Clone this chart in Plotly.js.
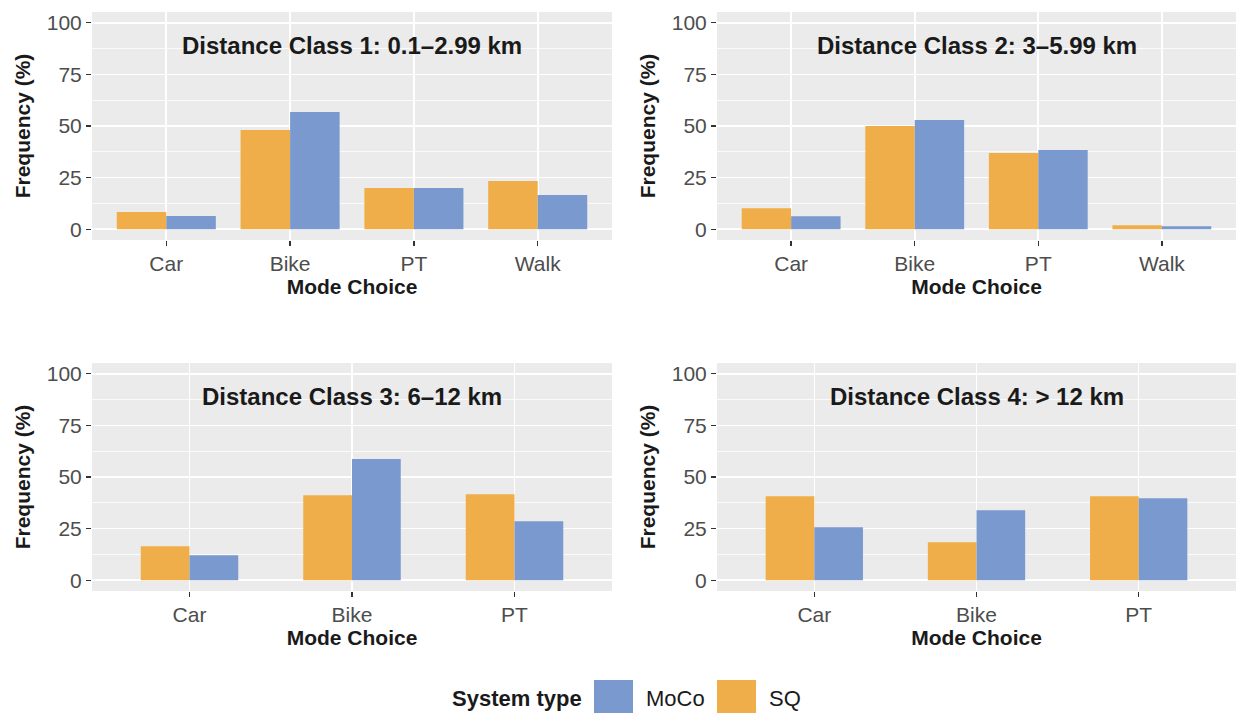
<!DOCTYPE html>
<html>
<head>
<meta charset="utf-8">
<script src="https://cdn.plot.ly/plotly-3.0.1.min.js"></script>
<style>html,body{margin:0;padding:0;background:#fff;}#chart{width:1238px;height:713px;}</style>
</head>
<body>
<div id="chart"></div>
<script>
// ---- data ----
const modes4 = ['Car', 'Bike', 'PT', 'Walk'];
const modes3 = ['Car', 'Bike', 'PT'];
const sq1 = [8.4, 48.1, 20.0, 23.4];
const moco1 = [6.4, 56.8, 20.0, 16.6];
const sq2 = [10.2, 50.0, 36.9, 2.0];
const moco2 = [6.3, 52.9, 38.4, 1.5];
const sq3 = [16.5, 41.2, 41.7];
const moco3 = [12.1, 58.7, 28.6];
const sq4 = [40.7, 18.4, 40.7];
const moco4 = [25.7, 33.9, 39.7];
const panelTitles = ['Distance Class 1: 0.1–2.99 km', 'Distance Class 2: 3–5.99 km',
                     'Distance Class 3: 6–12 km', 'Distance Class 4: > 12 km'];
const seriesNames = ['MoCo', 'SQ'];
const yTicks = [0, 25, 50, 75, 100];

// ---- styling ----
const W = 1238, H = 713;
const ORANGE = '#EFAE4A', BLUE = '#7A99CE';
const FONT = 'Liberation Sans, Arial, sans-serif';
const px = v => v / W;
const py = v => 1 - v / H;

const panels = [
  {cats: modes4, sq: sq1, moco: moco1, bw: 0.4},
  {cats: modes4, sq: sq2, moco: moco2, bw: 0.4},
  {cats: modes3, sq: sq3, moco: moco3, bw: 0.3},
  {cats: modes3, sq: sq4, moco: moco4, bw: 0.3}
];
const xDomains = [[px(92), px(612)], [px(717), px(1236)], [px(92), px(612)], [px(717), px(1236)]];
const yDomains = [[py(240), py(12)], [py(240), py(12)], [py(591), py(363)], [py(591), py(363)]];

const traces = [];
const layout = {
  width: W, height: H,
  margin: {l: 0, r: 0, t: 0, b: 0},
  paper_bgcolor: '#FFFFFF',
  plot_bgcolor: '#EBEBEB',
  barmode: 'overlay',
  showlegend: false,
  font: {family: FONT, color: '#1A1A1A'},
  annotations: [],
  shapes: []
};

panels.forEach((p, i) => {
  const n = i === 0 ? '' : String(i + 1);
  const xa = 'x' + n, ya = 'y' + n;
  traces.push({
    type: 'bar', name: seriesNames[1], x: p.cats, y: p.sq,
    xaxis: xa, yaxis: ya, width: p.bw, offset: -p.bw,
    marker: {color: ORANGE, line: {width: 0}}
  });
  traces.push({
    type: 'bar', name: seriesNames[0], x: p.cats, y: p.moco,
    xaxis: xa, yaxis: ya, width: p.bw, offset: 0,
    marker: {color: BLUE, line: {width: 0}}
  });
  layout['xaxis' + n] = {
    domain: xDomains[i], anchor: ya, type: 'category',
    range: [-0.6, p.cats.length - 0.4],
    showgrid: true, gridcolor: '#FFFFFF', gridwidth: 1.6,
    ticks: 'outside', ticklen: 5, tickwidth: 1.3, tickcolor: '#333333',
    tickfont: {size: 21, color: '#4D4D4D', family: FONT},
    showline: false, zeroline: false, fixedrange: true,
    title: {text: 'Mode Choice', font: {size: 21, color: '#1A1A1A', family: FONT, weight: 'bold'}, standoff: 5}
  };
  layout['yaxis' + n] = {
    domain: yDomains[i], anchor: xa,
    range: [-5.2, 105.2], tickvals: yTicks, ticktext: yTicks.map(String),
    showgrid: true, gridcolor: '#FFFFFF', gridwidth: 1.6,
    minor: {tick0: 12.5, dtick: 25, showgrid: true, gridcolor: '#FFFFFF', gridwidth: 0.8, ticks: ''},
    zeroline: true, zerolinecolor: '#FFFFFF', zerolinewidth: 1.6,
    ticks: 'outside', ticklen: 5, tickwidth: 1.3, tickcolor: '#333333',
    tickfont: {size: 21, color: '#4D4D4D', family: FONT},
    showline: false, fixedrange: true,
    title: {text: 'Frequency (%)', font: {size: 21, color: '#1A1A1A', family: FONT, weight: 'bold'}, standoff: 10}
  };
  layout.annotations.push({
    text: '<b>' + panelTitles[i] + '</b>',
    xref: xa + ' domain', x: 0.5, xanchor: 'center',
    yref: 'paper', y: i < 2 ? py(45) : py(396), yanchor: 'middle',
    showarrow: false, font: {size: 24, color: '#1A1A1A', family: FONT}
  });
});

// ---- legend (manual, ggplot-style large keys) ----
layout.annotations.push({
  text: '<b>System type</b>', xref: 'paper', yref: 'paper',
  x: px(450), xanchor: 'left', y: py(698), yanchor: 'middle',
  showarrow: false, font: {size: 22, color: '#1A1A1A', family: FONT}
});
const keyColors = [BLUE, ORANGE];
const keyX = [594, 717];
const labelX = [644, 767];
seriesNames.forEach((nm, k) => {
  layout.shapes.push({
    type: 'rect', xref: 'paper', yref: 'paper',
    x0: px(keyX[k]), x1: px(keyX[k] + 39), y0: py(713), y1: py(680),
    fillcolor: keyColors[k], line: {width: 0}
  });
  layout.annotations.push({
    text: nm, xref: 'paper', yref: 'paper',
    x: px(labelX[k]), xanchor: 'left', y: py(698), yanchor: 'middle',
    showarrow: false, font: {size: 22, color: '#1A1A1A', family: FONT}
  });
});

Plotly.newPlot('chart', traces, layout, {displayModeBar: false, staticPlot: true});
</script>
</body>
</html>
